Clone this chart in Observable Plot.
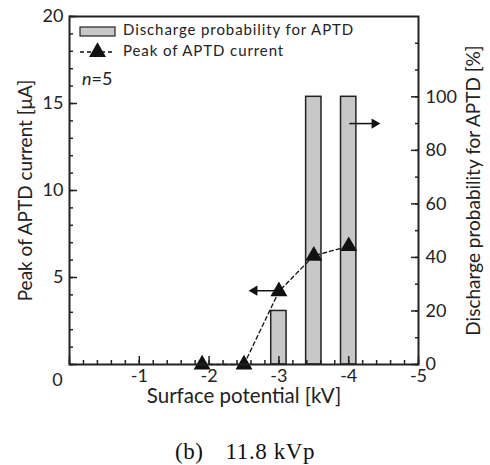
<!DOCTYPE html>
<html><head><meta charset="utf-8">
<script src="https://cdn.jsdelivr.net/npm/d3@7"></script>
<script src="https://cdn.jsdelivr.net/npm/@observablehq/plot@0.6"></script>
<style>
body{margin:0;background:#fff;}
#wrap{position:relative;width:490px;height:465px;overflow:hidden;}
#legend{position:absolute;left:0;top:0;pointer-events:none;}
#cap{position:absolute;left:0;top:439px;width:490px;text-align:center;font:23px "Liberation Serif",serif;white-space:pre;color:#111;letter-spacing:0.6px;}
#cap span.b{margin-right:22px;}
</style></head><body>
<div id="wrap"><div id="chart"></div><svg id="legend" width="490" height="100"></svg><div id="cap"></div></div>
<script>
// Data
const potential = [-1.9, -2.5, -3, -3.5, -4];          // kV
const peakCurrent = [0, 0, 4.2, 6.25, 6.8];            // µA
const dischargeProb = [0, 0, 20, 100, 100];            // %
const xTickLabels = [-1, -2, -3, -4, -5];
const leftTickLabels = [5, 10, 15, 20];
const rightTickLabels = [0, 20, 40, 60, 80, 100];
const leftMax = 20, rightMax = 130;
const arrowStart = [-2.98, -4.01];
const arrowEnd = [-2.65, -4.37];
const arrowLevelCurrent = [4.24, null];
const arrowLevelProb = [null, 90];
const legendLabels = ["Discharge probability for APTD", "Peak of APTD current"];
const sampleNote = "=5";
const xTitle = "Surface potential [kV]";
const yLeftTitle = "Peak of APTD current [μA]";
const yRightTitle = "Discharge probability for APTD [%]";
const captionParts = ["(b)", "11.8 kVp"];

const k = leftMax / rightMax;
const rows = potential.map((x, i) => ({x, peak: peakCurrent[i], prob: dischargeProb[i]}));
const arrows = arrowStart.map((x1, i) => ({
  x1, x2: arrowEnd[i],
  y: arrowLevelCurrent[i] != null ? arrowLevelCurrent[i] : arrowLevelProb[i] * k,
  rot: arrowEnd[i] > x1 ? -90 : 90
}));
const bw = 0.11;
const ink = "#222";
const font = "Lato, 'Open Sans', sans-serif";

const chart = Plot.plot({
  width: 490, height: 420,
  marginLeft: 69, marginRight: 72, marginTop: 16, marginBottom: 56,
  x: {domain: [0, -5]},
  y: {domain: [0, leftMax]},
  style: {fontFamily: font, fontSize: "18px", color: ink, background: "transparent"},
  marks: [
    Plot.rectY(rows.filter(d => d.prob > 0), {x1: d => d.x + bw, x2: d => d.x - bw, y1: 0, y2: d => d.prob * k,
      fill: "#c8c8c8", stroke: ink, strokeWidth: 1.5}),
    Plot.line(rows, {x: "x", y: "peak", stroke: "#111", strokeWidth: 1.3, strokeDasharray: "4,3"}),
    Plot.dot(rows, {x: "x", y: "peak", symbol: "triangle", r: 6.3, fill: "#111", stroke: null}),
    Plot.link(arrows, {x1: "x1", x2: "x2", y1: "y", y2: "y", stroke: "#111", strokeWidth: 1.5}),
    Plot.dot(arrows, {x: "x2", y: "y", symbol: "triangle", r: 3.8, rotate: "rot", fill: "#111", stroke: null}),
    // left axis
    Plot.axisY({anchor: "left", ticks: d3.range(0, 21, 5), tickSize: -8, tickFormat: () => "", label: null, stroke: ink, strokeWidth: 1.5}),
    Plot.axisY({anchor: "left", ticks: d3.range(0, 21, 1), tickSize: -4, tickFormat: () => "", label: null, stroke: ink, strokeWidth: 1.5}),
    Plot.axisY({anchor: "left", ticks: leftTickLabels, tickSize: 0, tickPadding: 6, label: null, fontSize: 18}),
    Plot.text(["0"], {x: 0, y: 0, text: d => d, dx: -12, dy: 16, fontSize: 18}),
    // right axis
    Plot.axisY({anchor: "right", ticks: rightTickLabels.map(v => v * k), tickSize: -8, tickFormat: () => "", label: null, stroke: ink, strokeWidth: 1.5}),
    Plot.axisY({anchor: "right", ticks: d3.range(0, 13).map(v => v * 10 * k), tickSize: -4, tickFormat: () => "", label: null, stroke: ink, strokeWidth: 1.5}),
    Plot.axisY({anchor: "right", ticks: rightTickLabels.map(v => v * k), tickSize: 0, tickPadding: 7,
      tickFormat: d => String(Math.round(d / k)), label: null, fontSize: 18}),
    // bottom axis
    Plot.axisX({anchor: "bottom", ticks: d3.range(0, -5.01, -1), tickSize: -8, tickFormat: () => "", label: null, stroke: ink, strokeWidth: 1.5}),
    Plot.axisX({anchor: "bottom", ticks: d3.range(0, 26).map(i => -i * 0.2), tickSize: -4, tickFormat: () => "", label: null, stroke: ink, strokeWidth: 1.5}),
    Plot.axisX({anchor: "bottom", ticks: xTickLabels, tickSize: 0, tickPadding: 5, tickFormat: d => String(d), label: null, fontSize: 18}),
    // titles
    Plot.text([xTitle], {frameAnchor: "bottom", text: d => d, dy: 38, fontSize: 20.5, textAnchor: "middle"}),
    Plot.text([yLeftTitle], {frameAnchor: "left", text: d => d, rotate: -90, dx: -44, fontSize: 19, textAnchor: "middle"}),
    Plot.text([yRightTitle], {frameAnchor: "right", text: d => d, rotate: -90, dx: 55, fontSize: 19, textAnchor: "middle"}),
    Plot.frame({stroke: ink, strokeWidth: 2})
  ]
});
document.getElementById("chart").append(chart);

// legend overlay
const lg = d3.select("#legend");
const lx = 80, ly = [31.5, 52];
lg.append("rect").attr("x", lx).attr("y", ly[0] - 4.5).attr("width", 35).attr("height", 9)
  .attr("fill", "#c8c8c8").attr("stroke", ink).attr("stroke-width", 1.2);
lg.append("line").attr("x1", lx).attr("x2", lx + 35).attr("y1", ly[1]).attr("y2", ly[1])
  .attr("stroke", "#111").attr("stroke-width", 1.3).attr("stroke-dasharray", "4,3");
lg.append("path").attr("transform", `translate(${lx + 17.5},${ly[1]})`)
  .attr("d", d3.symbol(d3.symbolTriangle, Math.PI * 6.3 * 6.3)()).attr("fill", "#111");
legendLabels.forEach((t, i) => {
  lg.append("text").attr("x", lx + 43).attr("y", ly[i]).attr("dominant-baseline", "middle")
    .attr("font-family", font).attr("font-size", 15).attr("letter-spacing", "0.9px").attr("fill", ink).text(t);
});
const nt = lg.append("text").attr("x", 82).attr("y", 80).attr("dominant-baseline", "middle")
  .attr("font-family", font).attr("font-size", 18).attr("fill", ink);
nt.append("tspan").attr("font-style", "italic").text("n");
nt.append("tspan").text(sampleNote);

const cap = d3.select("#cap");
cap.append("span").attr("class", "b").text(captionParts[0]);
cap.append("span").text(captionParts[1]);
</script>
</body></html>
